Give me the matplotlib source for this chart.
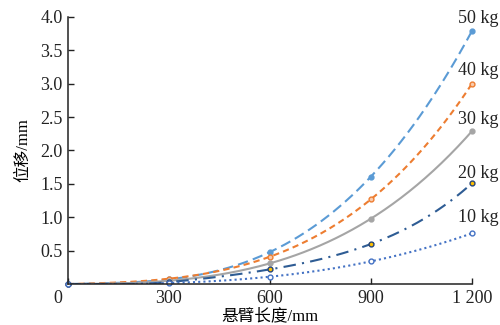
import numpy as np
import matplotlib.pyplot as plt
import matplotlib.transforms as mtransforms

# cantilever length (mm) and deflection (mm) for each load
length = [0, 300, 600, 900, 1200]
d_50kg = [0, 0.07, 0.48, 1.61, 3.79]
d_40kg = [0, 0.08, 0.41, 1.27, 3.00]
d_30kg = [0, 0.05, 0.31, 0.98, 2.29]
d_20kg = [0, 0.03, 0.22, 0.60, 1.51]
d_10kg = [0, 0.015, 0.11, 0.34, 0.76]
loads = ['50 kg', '40 kg', '30 kg', '20 kg', '10 kg']
label_y = [3.97, 3.19, 2.46, 1.66, 0.99]

plt.rcParams['font.family'] = ['Liberation Serif', 'Noto Sans CJK SC']

fig = plt.figure(figsize=(5, 3.25), dpi=100)
ax = fig.add_axes([0.136, 0.126, 0.808, 0.822])

styles = [
    dict(color='#5b9bd5', ls=(0, (5, 2.5)), mfc='#5b9bd5', mec='#5b9bd5'),
    dict(color='#ed7d31', ls=(0, (3, 2)), mfc='#f8cbad', mec='#ed7d31'),
    dict(color='#a5a5a5', ls='-', mfc='#a5a5a5', mec='#a5a5a5'),
    dict(color='#2e5c94', ls=(0, (6, 3, 1, 3)), mfc='#ffc000', mec='#264478'),
    dict(color='#4472c4', ls=(0, (1, 1.5)), mfc='white', mec='#4472c4'),
]
series = [d_50kg, d_40kg, d_30kg, d_20kg, d_10kg]

x = np.array(length, dtype=float)
xs = np.linspace(0, 1200, 200)
for y, st, name, ly in zip(series, styles, loads, label_y):
    # smooth line through the measured points
    coef = np.polyfit(x, y, 4)
    ys = np.clip(np.polyval(coef, xs), 0, None)
    ax.plot(xs, ys, color=st['color'], ls=st['ls'], lw=1.5)
    ax.plot(x, y, 'o', ms=3.5, mfc=st['mfc'], mec=st['mec'], mew=1, clip_on=False)
    ax.text(1218, ly, name, ha='center', va='center', fontsize=13, color='#222222')

ax.set_xlim(0, 1200)
ax.set_ylim(0, 4.0)
ax.set_xticks([0, 300, 600, 900, 1200])
ax.set_xticklabels(['0', '300', '600', '900', '1 200'])
ax.set_yticks([0.5, 1.0, 1.5, 2.0, 2.5, 3.0, 3.5, 4.0])
ax.set_yticklabels(['0.5', '1.0', '1.5', '2.0', '2.5', '3.0', '3.5', '4.0'])
ax.tick_params(direction='in', length=4, width=1, colors='#222222', labelsize=13)
ax.tick_params(axis='x', pad=4)
ax.tick_params(axis='y', pad=4)
# the origin label sits a little left of the axis corner
lbl0 = ax.get_xticklabels()[0]
lbl0.set_transform(lbl0.get_transform() + mtransforms.ScaledTranslation(-10 / 100, 0, fig.dpi_scale_trans))
ax.spines['top'].set_visible(False)
ax.spines['right'].set_visible(False)
for s in ['left', 'bottom']:
    ax.spines[s].set_linewidth(1.1)
    ax.spines[s].set_color('#222222')

ax.set_xlabel('悬臂长度/mm', fontsize=12, labelpad=1)
ax.set_ylabel('位移/mm', fontsize=12, labelpad=6)

fig.savefig('out.png', dpi=100)
